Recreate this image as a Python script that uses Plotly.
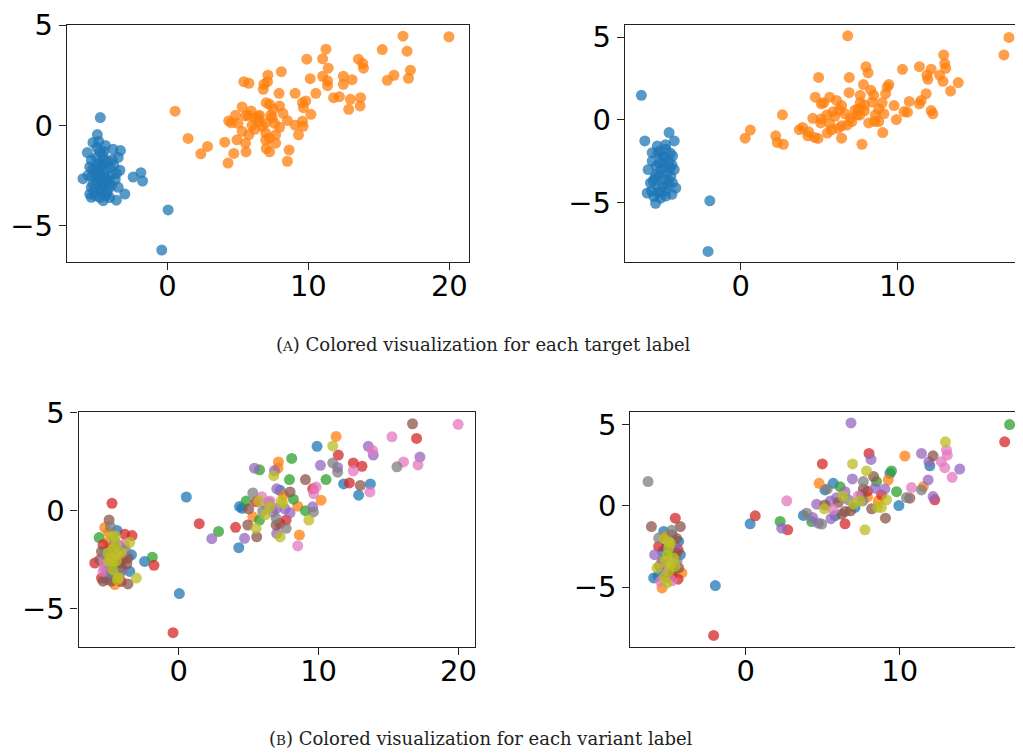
import plotly.graph_objects as go

# ---------------- data ----------------
# Left dataset (panels A-left and B-left share points)
left_x = [
    0.55, 1.47, 2.37, 2.85, 16.71, 19.97, 11.25, 15.24, 17.0, 9.89, 11.01, 13.55, 13.86, 13.91, 11.41,
    17.24, 16.07, 17.1, 15.6, 7.13, 8.08, 5.42, 5.78, 6.85, 7.10, 6.80, 7.92, 9.06, 10.13, 11.01,
    11.36, 11.36, 12.48, 13.1, 12.48, 10.53, 11.79, 12.2, 12.98, 13.7, 12.86, 13.67, 5.30, 5.94, 4.83,
    4.35, 4.54, 5.73, 6.44, 7.01, 7.25, 7.96, 7.32, 7.44, 6.97, 9.58, 9.82, 9.65, 10.18, 8.51,
    9.06, 9.58, 9.63, 9.30, 7.96, 5.30, 5.78, 6.73, 6.97, 7.68, 4.94, 4.07, 5.54, 6.97, 7.68,
    7.01, 5.58, 4.71, 7.25, 8.63, 8.51, 4.30, 6.20, 6.50, 5.54,
    6.53, 7.24, 6.20, 7.60, 6.00, 8.20, 7.50, 5.00,
    0.05, -0.40, -4.76, -4.97, -4.87, -5.28, -5.68, -4.80, -3.85, -3.33, -3.49, -5.40, -4.49, -4.09, -5.51,
    -3.37, -3.62, -5.99, -5.63, -4.69, -5.28, -2.43, -1.88, -1.76, -4.69, -3.97, -3.49, -3.02, -5.40, -5.51,
    -4.37, -3.62, -4.80, -4.56, -5.04, -4.44, -5.40, -4.80, -4.90, -4.60, -5.10, -4.30, -4.95, -4.20, -5.20,
    -4.60, -5.00, -4.40, -3.90, -5.30, -4.00, -4.70,
    -4.50, -4.20, -5.00, -4.60, -4.30, -5.10, -4.85, -4.15, -5.35, -4.65, -3.80, -4.10, -5.05, -4.45, -3.70,
]
left_y = [
    0.71, -0.65, -1.42, -1.05, 4.45, 4.42, 3.80, 3.78, 3.70, 3.30, 3.32, 3.30, 3.08, 2.85, 2.85,
    2.75, 2.50, 2.35, 2.25, 2.50, 2.68, 2.18, 2.10, 2.05, 2.18, 1.80, 1.60, 1.60, 2.33, 2.45,
    2.22, 1.98, 2.45, 2.28, 2.05, 1.60, 1.38, 1.43, 1.30, 1.38, 0.80, 0.97, 0.92, 0.72, 0.50,
    0.22, 0.13, 0.50, 0.43, 1.13, 1.05, 0.97, 0.50, 0.38, 0.12, 1.13, 1.22, 0.88, 0.55, 0.24,
    0.01, 0.21, -0.05, -0.47, -0.10, -0.30, -0.47, -0.05, -0.38, -0.47, -0.72, -0.84, -0.89, -0.72, -0.89,
    -1.15, -1.32, -1.40, -1.32, -1.23, -1.79, -1.88, 0.35, 0.20, 0.47,
    0.51, -0.64, -0.20, 0.10, 0.00, 0.60, 0.80, 0.10,
    -4.22, -6.22, 0.39, -0.46, -0.80, -0.85, -1.36, -1.31, -1.19, -1.26, -1.60, -1.73, -1.73, -2.12, -2.07,
    -2.24, -2.41, -2.66, -2.49, -2.58, -2.92, -2.58, -2.36, -2.78, -3.00, -3.00, -3.09, -3.43, -3.59, -3.43,
    -3.51, -3.73, -3.59, -3.76, -2.15, -2.24, -3.09, -3.17, -1.90, -1.50, -2.40, -2.70, -2.80, -3.20, -3.30,
    -2.00, -1.10, -1.00, -1.70, -2.20, -2.50, -3.30,
    -1.30, -1.80, -2.60, -2.90, -3.40, -3.50, -2.35, -2.90, -2.55, -1.95, -2.00, -3.60, -1.60, -2.55, -2.70,
]
left_target = [1] * 93 + [0] * 67
left_variant = [
    0, 3, 4, 2, 5, 6, 1, 6, 3, 0, 8, 4, 6, 4, 3,
    4, 6, 6, 7, 1, 2, 4, 2, 4, 1, 8, 2, 5, 4, 7,
    4, 7, 3, 3, 6, 2, 0, 3, 5, 0, 0, 6, 7, 6, 2,
    0, 0, 8, 2, 4, 0, 5, 8, 8, 4, 3, 6, 6, 1, 1,
    2, 4, 7, 8, 4, 1, 2, 4, 7, 3, 5, 3, 8, 5, 7,
    4, 5, 4, 8, 1, 6, 0, 6, 8, 3,
    6, 3, 8, 4, 7, 2, 1, 5,
    0, 3, 3, 5, 7, 1, 2, 8, 3, 3, 8, 3, 8, 8, 5,
    0, 5, 3, 5, 8, 4, 0, 2, 3, 8, 4, 0, 8, 5, 3,
    8, 5, 5, 1, 8, 8, 6, 7, 0, 4, 6, 2, 0, 7, 0,
    5, 1, 0, 6, 7, 3, 2,
    8, 0, 8, 2, 8, 4, 8, 5, 6, 8, 7, 3, 1, 8, 5,
]

# Right dataset (panels A-right and B-right share points)
right_x = [
    0.28, 0.61, 2.66, 2.23, 2.33, 2.72, 6.83, 17.13, 16.81, 12.96, 13.03, 13.09, 10.33, 11.41, 12.16,
    11.89, 11.95, 12.70, 12.92, 13.89, 13.40, 8.00, 8.13, 4.97, 6.93, 7.84, 9.46, 9.36, 9.25, 6.92,
    7.63, 8.49, 4.76, 5.68, 6.12, 6.44, 5.14, 5.29, 7.63, 7.52, 8.39, 9.03, 9.79, 8.81, 10.76,
    11.52, 11.84, 11.41, 12.16, 12.27, 10.43, 10.65, 9.94, 9.14, 8.56, 8.81, 8.17, 9.07, 7.74, 7.41,
    7.09, 6.66, 6.01, 6.44, 6.22, 6.44, 5.68, 5.53, 5.10, 5.14, 4.60, 4.93, 4.71, 4.28, 3.95,
    3.74, 4.34, 7.30, 7.90, 8.60, 5.90, 7.00, 8.30,
    5.50, 6.30, 7.60, 6.80, 7.90, 5.80,
    -6.35, -6.13, -4.58, -4.25, -1.98, -2.09, -4.15, -5.44, -5.98, -5.92, -5.12, -5.33, -4.79, -4.36, -5.66,
    -5.01, -5.22, -4.47, -5.77, -4.36, -4.79, -5.55, -4.90, -5.66, -4.25, -5.33, -4.69, -5.00, -5.10, -4.90,
    -5.40, -4.60, -5.20, -4.40, -5.70, -4.80, -5.50, -4.50, -5.10,
    -5.30, -4.90, -5.20, -4.70, -5.40, -4.60, -5.00, -4.40, -5.60, -4.80, -5.30, -4.50,
]
right_y = [
    -1.10, -0.61, 0.31, -0.96, -1.37, -1.47, 5.09, 4.99, 3.93, 3.93, 3.42, 3.12, 3.06, 3.22, 3.07,
    2.71, 2.46, 2.71, 2.34, 2.26, 1.75, 3.22, 2.85, 2.57, 2.57, 2.14, 2.14, 1.99, 1.59, 1.65,
    1.49, 1.49, 1.38, 1.38, 1.18, 0.87, 0.98, 1.04, 1.04, 0.67, 1.08, 1.04, 0.87, 0.67, 1.12,
    1.18, 1.59, 0.98, 0.57, 0.37, 0.51, 0.47, 0.02, 0.37, -0.09, -0.10, -0.18, -0.76, -1.47, 0.31,
    -0.10, 0.37, 0.22, -0.35, -0.51, -1.10, -0.24, -0.79, -0.18, 0.06, 0.10, -1.12, -1.06, -0.96, -0.45,
    -0.59, -0.72, 0.60, 0.90, 0.30, 0.50, 0.10, 1.80,
    0.30, 0.60, 0.30, -0.30, 0.55, -0.60,
    1.49, -1.27, -0.76, -1.27, -4.89, -7.95, -4.12, -5.04, -4.42, -3.00, -4.73, -1.57, -1.77, -2.18, -1.98,
    -2.59, -3.40, -3.40, -3.81, -3.81, -4.32, -4.63, -2.90, -2.49, -3.00, -4.02, -3.91, -2.20, -3.00, -3.60,
    -2.80, -2.50, -1.90, -4.50, -4.30, -1.50, -3.50, -2.90, -4.40,
    -2.00, -2.30, -2.60, -3.20, -3.30, -3.70, -4.00, -2.70, -3.70, -4.60, -4.40, -2.00,
]
right_target = [1] * 89 + [0] * 51
right_variant = [
    0, 3, 6, 2, 4, 3, 4, 2, 3, 8, 6, 6, 1, 4, 5,
    4, 0, 6, 6, 4, 6, 3, 4, 3, 8, 8, 2, 0, 1, 4,
    7, 2, 1, 0, 2, 4, 0, 7, 5, 5, 4, 4, 2, 3, 6,
    1, 4, 7, 4, 3, 7, 5, 0, 8, 8, 8, 5, 5, 8, 8,
    0, 7, 5, 5, 5, 3, 6, 4, 8, 5, 4, 7, 4, 2, 7,
    0, 4, 6, 3, 1, 4, 8, 5,
    4, 8, 7, 5, 1, 0,
    7, 5, 3, 5, 0, 3, 1, 1, 0, 4, 8, 0, 5, 0, 7,
    8, 8, 7, 8, 5, 3, 6, 2, 3, 0, 4, 2, 8, 8, 8,
    0, 4, 1, 3, 0, 7, 6, 5, 2,
    8, 8, 0, 8, 7, 8, 8, 3, 2, 6, 8, 5,
]

tab10 = ["#1f77b4", "#ff7f0e", "#2ca02c", "#d62728", "#9467bd",
         "#8c564b", "#e377c2", "#7f7f7f", "#bcbd22", "#17becf"]

captions = [
    "(<span style='font-size:13.5px'>A</span>) Colored visualization for each target label",
    "(<span style='font-size:13.5px'>B</span>) Colored visualization for each variant label",
]

# ---------------- layout geometry (page pixels) ----------------
OFF = 8                     # default page body margin
W, H = 1023 - OFF, 756 - OFF
panels = {
    # name: (x0, x1, y0, y1) page pixels, x range, y range, x ticks
    "1": ((67, 470, 21, 259), [-7.13, 21.4], [-6.80, 5.02], [0, 10, 20]),
    "2": ((626, 1023, 21, 259.3), [-7.41, 17.9], [-8.59, 5.76], [0, 10]),
    "3": ((78.7, 476, 410, 645.7), [-7.15, 21.18], [-6.93, 5.05], [0, 10, 20]),
    "4": ((631.7, 1023, 410, 645.7), [-7.49, 17.87], [-8.64, 5.76], [0, 10]),
}

def fx(px):
    return (px - OFF) / W

def fy(py):
    # empirical vertical correction of the rendered page
    py = (py - 12.4) / 0.983
    return 1 - (py - OFF) / H

fig = go.Figure()

def add_points(xs, ys, labels, axis, order):
    suffix = "" if axis == "1" else axis
    for lab in order:
        px = [x for x, l in zip(xs, labels) if l == lab]
        py = [y for y, l in zip(ys, labels) if l == lab]
        if not px:
            continue
        fig.add_trace(go.Scatter(
            x=px, y=py, mode="markers", xaxis="x" + suffix, yaxis="y" + suffix,
            marker=dict(size=11, color=tab10[lab], opacity=0.75, line=dict(width=0)),
            showlegend=False, hoverinfo="x+y",
        ))

add_points(left_x, left_y, left_target, "1", [0, 1])
add_points(right_x, right_y, right_target, "2", [0, 1])
add_points(left_x, left_y, left_variant, "3", list(range(10)))
add_points(right_x, right_y, right_variant, "4", list(range(10)))

axis_font = dict(family="DejaVu Sans", size=29, color="black")
layout = dict(
    width=W, height=H, margin=dict(l=0, r=0, t=0, b=0),
    paper_bgcolor="white", plot_bgcolor="white",
)
for name, ((x0, x1, y0, y1), xr, yr, xt) in panels.items():
    right_panel = name in ("2", "4")
    suffix = "" if name == "1" else name
    layout["xaxis" + suffix] = dict(
        domain=[fx(x0), min(1.0, fx(x1))], range=xr, anchor="y" + suffix,
        tickmode="array", tickvals=xt, ticks="outside", ticklen=7, tickwidth=1.2,
        tickcolor="#222", showline=True, linecolor="#222", linewidth=1.2,
        mirror=True, showgrid=False, zeroline=False, tickfont=axis_font,
        ticklabelstandoff=-9,
    )
    layout["yaxis" + suffix] = dict(
        domain=[max(0.0, fy(y1)), min(1.0, fy(y0))], range=yr, anchor="x" + suffix,
        tickmode="array", tickvals=[-5, 0, 5], ticks="outside", ticklen=7, tickwidth=1.2,
        tickcolor="#222", showline=True, linecolor="#222", linewidth=1.2,
        mirror=(not right_panel), showgrid=False, zeroline=False, tickfont=axis_font,
    )

cap_font = dict(family="DejaVu Serif", size=18, color="#222")
layout["annotations"] = [
    dict(text=captions[0], x=fx(484), y=fy(342), xref="paper", yref="paper",
         showarrow=False, xanchor="center", yanchor="middle", font=cap_font),
    dict(text=captions[1], x=fx(482), y=fy(738), xref="paper", yref="paper",
         showarrow=False, xanchor="center", yanchor="middle", font=cap_font),
]
fig.update_layout(**layout)
fig.write_html("out.html")
